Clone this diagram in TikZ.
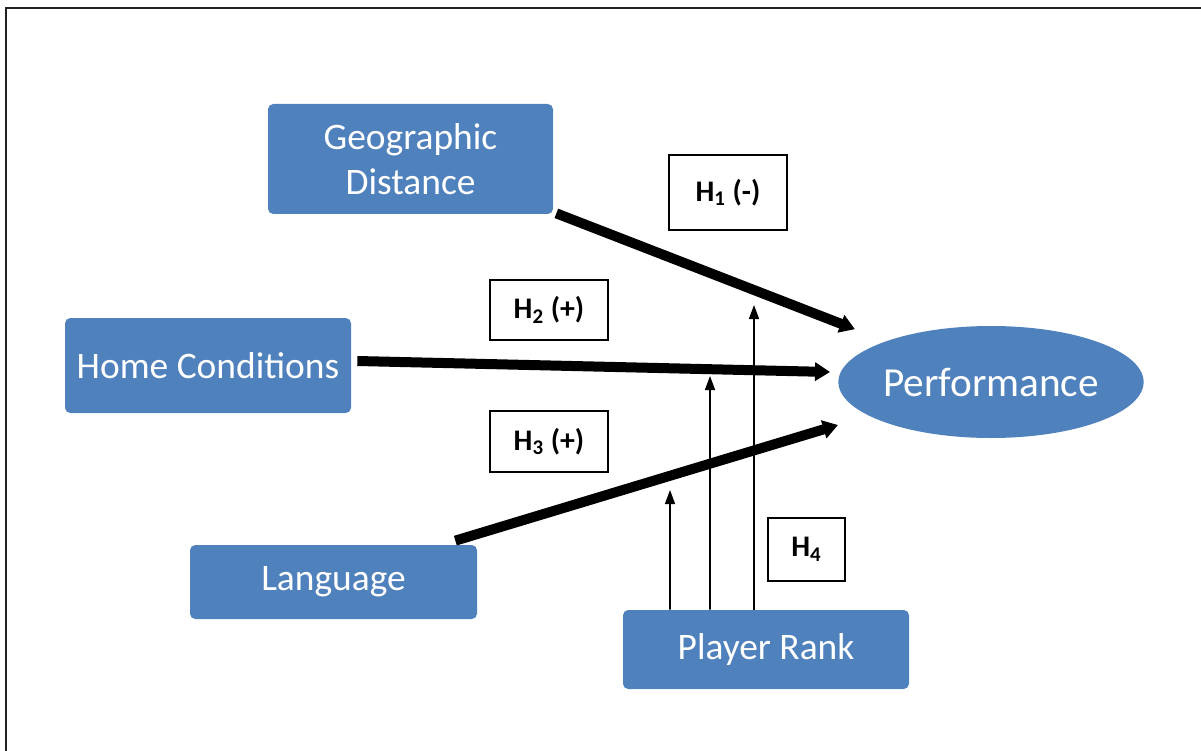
\documentclass[tikz,border=0pt]{standalone}
\usepackage{fontspec}
\setmainfont{Carlito}
\usetikzlibrary{arrows.meta,positioning,shapes.geometric}
\definecolor{BoxBlue}{HTML}{4F81BD}
\definecolor{FrameInk}{HTML}{222222}

\begin{document}
\begin{tikzpicture}[
    box/.style={
      rounded corners=3pt,
      fill=BoxBlue,
      draw=none,
      align=center,
      text=white,
      inner sep=0pt,
      font=\fontsize{21.3}{25.5}\selectfont
    },
    hyp/.style={
      draw=black,
      line width=0.8pt,
      fill=white,
      inner sep=0pt,
      font=\fontsize{17}{20}\selectfont\bfseries
    },
    bigarrow/.style={-{Triangle[length=0.3cm,width=0.36cm]}, line width=0.2cm, draw=black},
    modarrow/.style={-{Triangle[length=0.28cm,width=0.2cm]}, line width=0.9pt, draw=black}
  ]
    \useasboundingbox (0,0) rectangle (24.02,15);
    \draw[FrameInk, line width=1.2pt] (0.12,-0.5) -- (0.12,14.84) -- (24.5,14.84);

    \node[box, minimum width=5.7cm, minimum height=2.2cm] (geo) at (8.21,11.82) {Geographic\\Distance};
    \node[box, minimum width=5.72cm, minimum height=1.9cm] (home) at (4.16,7.69) {Home Conditions};
    \node[box, minimum width=5.74cm, minimum height=1.48cm] (lang) at (6.67,3.36) {Language};
    \node[box, minimum width=5.72cm, minimum height=1.58cm] (rank) at (15.32,2.01) {Player Rank};
    \node[box, ellipse, minimum width=6.04cm, minimum height=2.24cm,
          font=\fontsize{23.5}{28}\selectfont] (perf) at (19.82,7.36) {Performance};

    \node[hyp, minimum width=2.36cm, minimum height=1.5cm] (h1) at (14.56,11.15) {H\textsubscript{1} (-)};
    \node[hyp, minimum width=2.36cm, minimum height=1.2cm] (h2) at (10.98,8.80) {H\textsubscript{2} (+)};
    \node[hyp, minimum width=2.36cm, minimum height=1.22cm] (h3) at (10.98,6.17) {H\textsubscript{3} (+)};
    \node[hyp, minimum width=1.54cm, minimum height=1.26cm] (h4) at (16.13,4.01) {H\textsubscript{4}};

    % moderator targets
    \coordinate (m3) at (13.40,5.20);
    \coordinate (m2) at (14.20,7.48);
    \coordinate (m1) at (15.08,8.90);

    \draw[bigarrow, shorten >=0.66cm] ([shift={(0.06cm,0.02cm)}]geo.south east) -- (perf);
    \draw[bigarrow] ([shift={(0.12cm,0.09cm)}]home.east) -- ([shift={(-0.16cm,0.2cm)}]perf.west);
    \draw[bigarrow] ([shift={(-0.44cm,0.08cm)}]lang.north east) -- ([yshift=-0.86cm]perf.west);

    \draw[modarrow] ([xshift=-1.92cm]rank.north) -- (m3);
    \draw[modarrow] ([xshift=-1.12cm]rank.north) -- (m2);
    \draw[modarrow] ([xshift=-0.24cm]rank.north) -- (m1);
  \end{tikzpicture}
\end{document}
